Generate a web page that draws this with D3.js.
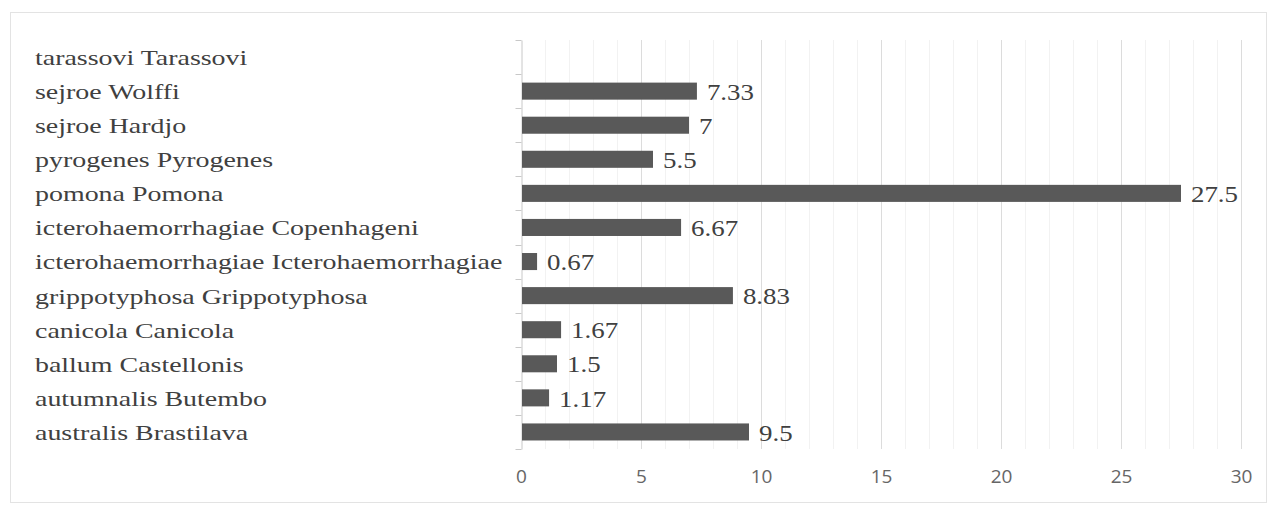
<!DOCTYPE html>
<html>
<head>
<meta charset="utf-8">
<script src="https://cdn.jsdelivr.net/npm/d3@7"></script>
<style>
  body { margin: 0; background: #fff; }
</style>
</head>
<body>
<div id="chart"></div>
<script>
const width = 1268;
const height = 511;

// categories top to bottom as drawn
const categories = [
    "tarassovi Tarassovi",
    "sejroe Wolffi",
    "sejroe Hardjo",
    "pyrogenes Pyrogenes",
    "pomona Pomona",
    "icterohaemorrhagiae Copenhageni",
    "icterohaemorrhagiae Icterohaemorrhagiae",
    "grippotyphosa Grippotyphosa",
    "canicola Canicola",
    "ballum Castellonis",
    "autumnalis Butembo",
    "australis Brastilava"
];
const values = [null, 7.33, 7, 5.5, 27.5, 6.67, 0.67, 8.83, 1.67, 1.5, 1.17, 9.5];
const valueLabels = ["", "7.33", "7", "5.5", "27.5", "6.67", "0.67", "8.83", "1.67", "1.5", "1.17", "9.5"];
const xTicks = [0, 5, 10, 15, 20, 25, 30];

const svg = d3.create("svg")
    .attr("width", width)
    .attr("height", height);

// outer chart frame
svg.append("rect")
    .attr("x", 10.5)
    .attr("y", 12.5)
    .attr("width", 1256)
    .attr("height", 490)
    .attr("fill", "#fff")
    .attr("stroke", "#e3e3e3");

const x = d3.scaleLinear()
    .domain([0, 30])
    .range([521, 1241]);

const y = d3.scaleBand()
    .domain(categories)
    .range([40, 449])
    .paddingInner(0.5)
    .paddingOuter(0.25);

// minor grid every 1, major every 5
const grid = svg.append("g");
grid.selectAll("line.minor")
    .data(d3.range(1, 31).filter(d => d % 5 !== 0))
    .join("line")
    .attr("class", "minor")
    .attr("x1", d => Math.round(x(d)) + 0.5)
    .attr("x2", d => Math.round(x(d)) + 0.5)
    .attr("y1", 40)
    .attr("y2", 449)
    .attr("stroke", "#f2f2f2");

grid.selectAll("line.major")
    .data(xTicks.slice(1))
    .join("line")
    .attr("class", "major")
    .attr("x1", d => Math.round(x(d)) + 0.5)
    .attr("x2", d => Math.round(x(d)) + 0.5)
    .attr("y1", 40)
    .attr("y2", 449)
    .attr("stroke", "#dcdcdc");

// y axis line with ticks at band boundaries
const yAxis = svg.append("g")
    .attr("transform", `translate(${Math.round(x(0)) + 0.5},0)`)
    .call(d3.axisLeft(y).tickSize(0).tickFormat(""));
yAxis.select(".domain").attr("stroke", "#c8c8c8");
yAxis.selectAll(".tick").remove();
yAxis.selectAll("line.bound")
    .data(d3.range(categories.length + 1))
    .join("line")
    .attr("class", "bound")
    .attr("x1", -6)
    .attr("x2", 0)
    .attr("y1", i => Math.round(40 + i * y.step()) + 0.5)
    .attr("y2", i => Math.round(40 + i * y.step()) + 0.5)
    .attr("stroke", "#c8c8c8");

// x axis tick labels
const xAxis = svg.append("g")
    .attr("transform", "translate(0,449)")
    .call(d3.axisBottom(x).tickValues(xTicks).tickSize(0).tickPadding(21));
xAxis.select(".domain").remove();
xAxis.selectAll("text")
    .attr("font-family", "'Open Sans', sans-serif")
    .attr("font-size", "19px")
    .attr("fill", "#666");

// category labels (left aligned)
svg.append("g")
    .selectAll("text")
    .data(categories)
    .join("text")
    .attr("transform", d => `translate(35,${y(d) + y.bandwidth() / 2}) scale(1.27,1)`)
    .attr("dy", "0.36em")
    .attr("font-family", "'Liberation Serif', serif")
    .attr("font-size", "22px")
    .attr("fill", "#404040")
    .text(d => d);

const rows = categories.map((c, i) => ({cat: c, value: values[i], label: valueLabels[i]}))
    .filter(d => d.value !== null);

// bars
svg.append("g")
    .selectAll("rect")
    .data(rows)
    .join("rect")
    .attr("x", x(0) + 1)
    .attr("y", d => y(d.cat))
    .attr("width", d => x(d.value) - x(0) - 1)
    .attr("height", y.bandwidth())
    .attr("fill", "#595959");

// value labels
svg.append("g")
    .selectAll("text")
    .data(rows)
    .join("text")
    .attr("transform", d => `translate(${x(d.value) + 10},${y(d.cat) + y.bandwidth() / 2}) scale(1.12,1)`)
    .attr("dy", "0.36em")
    .attr("font-family", "'Liberation Serif', serif")
    .attr("font-size", "24px")
    .attr("fill", "#404040")
    .text(d => d.label);

d3.select("#chart").append(() => svg.node());
</script>
</body>
</html>
